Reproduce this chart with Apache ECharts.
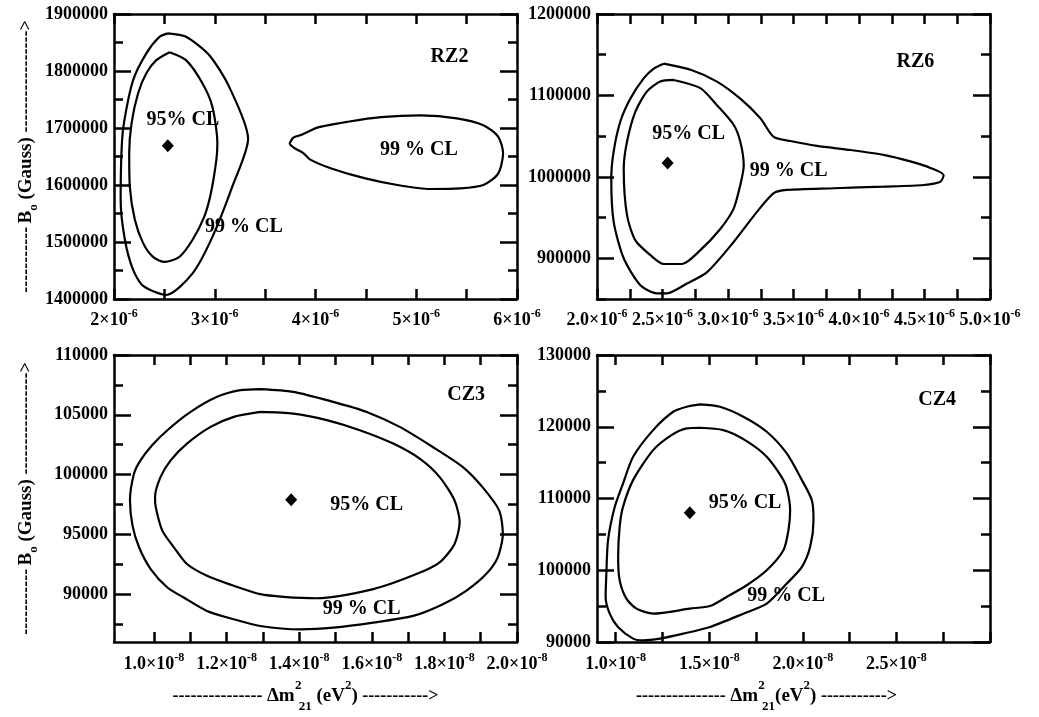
<!DOCTYPE html>
<html>
<head>
<meta charset="utf-8">
<script src="https://cdn.jsdelivr.net/npm/echarts@6/dist/echarts.min.js"></script>
<style>
  html, body { margin: 0; padding: 0; background: #fff; }
  #chart { width: 1039px; height: 717px; }
</style>
</head>
<body>
<div id="chart"></div>
<script>
// contours: [dm2 (eV^2), B0 (Gauss)]
const rz2Outer = [[2.534e-6,1866000],[2.715e-6,1860000],[2.944e-6,1828000],[3.141e-6,1773000],[3.331e-6,1681000],[3.174e-6,1597000],[2.977e-6,1509000],[2.780e-6,1445000],[2.518e-6,1407000],[2.289e-6,1423000],[2.190e-6,1451000],[2.108e-6,1504000],[2.066e-6,1574000],[2.075e-6,1661000],[2.098e-6,1708000],[2.190e-6,1784000],[2.321e-6,1831000],[2.452e-6,1860000],[2.534e-6,1866000]];
const rz2Inner = [[2.551e-6,1833000],[2.715e-6,1819000],[2.879e-6,1778000],[2.977e-6,1737000],[3.026e-6,1673000],[3.016e-6,1644000],[2.961e-6,1585000],[2.895e-6,1544000],[2.780e-6,1504000],[2.649e-6,1474000],[2.502e-6,1465000],[2.387e-6,1474000],[2.289e-6,1498000],[2.207e-6,1539000],[2.157e-6,1597000],[2.151e-6,1656000],[2.174e-6,1708000],[2.239e-6,1761000],[2.321e-6,1796000],[2.420e-6,1819000],[2.551e-6,1833000]];
const rz2Island = [[3.741e-6,1672000],[3.780e-6,1683000],[3.862e-6,1688000],[4.026e-6,1701000],[4.321e-6,1711000],[4.649e-6,1719000],[5.043e-6,1722000],[5.403e-6,1717000],[5.666e-6,1705000],[5.813e-6,1685000],[5.862e-6,1656000],[5.813e-6,1620000],[5.666e-6,1600000],[5.436e-6,1594000],[5.141e-6,1593000],[4.813e-6,1600000],[4.485e-6,1612000],[4.157e-6,1629000],[3.944e-6,1645000],[3.879e-6,1656000],[3.797e-6,1664000],[3.741e-6,1672000]];
const rz2Best = [2.534e-6, 1669000];

const rz6Outer = [[2.509e-6,1139000],[2.725e-6,1131000],[2.916e-6,1117000],[3.094e-6,1096000],[3.247e-6,1072000],[3.349e-6,1049000],[3.476e-6,1044000],[3.679e-6,1038000],[3.934e-6,1033000],[4.188e-6,1027000],[4.392e-6,1019000],[4.545e-6,1011000],[4.646e-6,1002000],[4.621e-6,994000],[4.494e-6,990000],[4.188e-6,988000],[3.807e-6,986000],[3.450e-6,984000],[3.349e-6,980000],[3.221e-6,957000],[3.043e-6,920000],[2.840e-6,883000],[2.687e-6,869000],[2.534e-6,857000],[2.458e-6,857000],[2.331e-6,867000],[2.204e-6,900000],[2.127e-6,945000],[2.109e-6,998000],[2.127e-6,1031000],[2.178e-6,1068000],[2.254e-6,1096000],[2.356e-6,1121000],[2.433e-6,1133000],[2.509e-6,1139000]];
const rz6Inner = [[2.585e-6,1119000],[2.789e-6,1109000],[2.916e-6,1088000],[3.043e-6,1064000],[3.094e-6,1043000],[3.120e-6,1014000],[3.094e-6,990000],[3.043e-6,961000],[2.941e-6,936000],[2.789e-6,910000],[2.649e-6,893000],[2.509e-6,893000],[2.407e-6,904000],[2.293e-6,922000],[2.229e-6,953000],[2.204e-6,1010000],[2.229e-6,1043000],[2.293e-6,1080000],[2.382e-6,1105000],[2.483e-6,1117000],[2.585e-6,1119000]];
const rz6Best = [2.539e-6, 1017000];

const cz3Outer = [[1.293e-8,107150],[1.384e-8,106920],[1.494e-8,106080],[1.586e-8,105240],[1.677e-8,103990],[1.768e-8,102310],[1.851e-8,100630],[1.905e-8,98950],[1.951e-8,96990],[1.961e-8,95030],[1.947e-8,93080],[1.915e-8,91680],[1.860e-8,90280],[1.796e-8,89160],[1.714e-8,88180],[1.604e-8,87620],[1.494e-8,87200],[1.403e-8,87060],[1.293e-8,87340],[1.220e-8,87900],[1.146e-8,88600],[1.082e-8,89720],[1.037e-8,90560],[0.991e-8,92100],[0.959e-8,93920],[0.941e-8,95730],[0.934e-8,97830],[0.945e-8,100070],[0.963e-8,101190],[0.995e-8,102450],[1.037e-8,103710],[1.101e-8,105240],[1.174e-8,106500],[1.238e-8,107060],[1.293e-8,107150]];
const cz3Inner = [[1.293e-8,105240],[1.384e-8,105100],[1.476e-8,104550],[1.567e-8,103710],[1.659e-8,102590],[1.732e-8,101330],[1.787e-8,99790],[1.828e-8,97830],[1.842e-8,96010],[1.828e-8,94200],[1.787e-8,92660],[1.723e-8,91680],[1.604e-8,90420],[1.448e-8,89660],[1.357e-8,89780],[1.293e-8,90000],[1.220e-8,90700],[1.146e-8,91540],[1.091e-8,92520],[1.055e-8,93920],[1.023e-8,95310],[1.005e-8,97270],[1.003e-8,98110],[1.018e-8,99790],[1.046e-8,101190],[1.091e-8,102590],[1.156e-8,103990],[1.220e-8,104830],[1.293e-8,105240]];
const cz3Best = [1.378e-8, 97900];

const cz4Outer = [[1.450e-8,123120],[1.557e-8,122790],[1.682e-8,121400],[1.807e-8,119300],[1.914e-8,116280],[1.995e-8,112560],[2.048e-8,109770],[2.057e-8,106980],[2.039e-8,103260],[1.995e-8,100470],[1.914e-8,98140],[1.807e-8,95350],[1.682e-8,93950],[1.504e-8,92090],[1.361e-8,91160],[1.236e-8,90470],[1.146e-8,90230],[1.093e-8,90470],[1.012e-8,92090],[0.968e-8,93950],[0.946e-8,96280],[0.950e-8,99530],[0.959e-8,104190],[0.995e-8,108840],[1.039e-8,112090],[1.093e-8,115810],[1.200e-8,119530],[1.307e-8,122090],[1.379e-8,122790],[1.450e-8,123120]];
const cz4Inner = [[1.450e-8,119860],[1.575e-8,119530],[1.691e-8,118140],[1.807e-8,115810],[1.905e-8,112090],[1.932e-8,108370],[1.923e-8,105580],[1.896e-8,102790],[1.807e-8,100000],[1.700e-8,97910],[1.593e-8,96280],[1.504e-8,95020],[1.396e-8,94650],[1.200e-8,93950],[1.111e-8,94650],[1.057e-8,96050],[1.021e-8,98600],[1.013e-8,101860],[1.021e-8,106050],[1.039e-8,108840],[1.093e-8,112560],[1.200e-8,116740],[1.298e-8,118840],[1.379e-8,119770],[1.450e-8,119860]];
const cz4Best = [1.396e-8, 108000];

// text notes: [text, dm2, B0]
const rz2Notes = [['RZ2', 5.33e-6, 1825000], ['95% CL', 2.685e-6, 1714000], ['99 % CL', 5.026e-6, 1661000], ['99 % CL', 3.289e-6, 1527000]];
const rz6Notes = [['RZ6', 4.43e-6, 1141000], ['95% CL', 2.70e-6, 1053000], ['99 % CL', 3.463e-6, 1008000]];
const cz3Notes = [['CZ3', 1.86e-8, 106640], ['95% CL', 1.586e-8, 97470], ['99 % CL', 1.572e-8, 88740]];
const cz4Notes = [['CZ4', 2.718e-8, 123720], ['95% CL', 1.691e-8, 109440], ['99 % CL', 1.911e-8, 96370]];

// ticks and labels
const rz2XTicks = [2e-6, 2.5e-6, 3e-6, 3.5e-6, 4e-6, 4.5e-6, 5e-6, 5.5e-6, 6e-6];
const rz2XLabels = [2e-6, 3e-6, 4e-6, 5e-6, 6e-6];
const rz2YMajor = [1400000, 1500000, 1600000, 1700000, 1800000, 1900000];
const rz2YMinor = [1450000, 1550000, 1650000, 1750000, 1850000];

const rz6XTicks = [2e-6, 2.25e-6, 2.5e-6, 2.75e-6, 3e-6, 3.25e-6, 3.5e-6, 3.75e-6, 4e-6, 4.25e-6, 4.5e-6, 4.75e-6, 5e-6];
const rz6XLabels = [2e-6, 2.5e-6, 3e-6, 3.5e-6, 4e-6, 4.5e-6, 5e-6];
const rz6YMajor = [900000, 1000000, 1100000, 1200000];
const rz6YMinor = [850000, 950000, 1050000, 1150000];

const cz3XTicks = [1.0e-8, 1.1e-8, 1.2e-8, 1.3e-8, 1.4e-8, 1.5e-8, 1.6e-8, 1.7e-8, 1.8e-8, 1.9e-8, 2.0e-8];
const cz3XLabels = [1.0e-8, 1.2e-8, 1.4e-8, 1.6e-8, 1.8e-8, 2.0e-8];
const cz3YMajor = [90000, 95000, 100000, 105000, 110000];
const cz3YMinor = [87500, 92500, 97500, 102500, 107500];

const cz4XTicks = [1.0e-8, 1.25e-8, 1.5e-8, 1.75e-8, 2.0e-8, 2.25e-8, 2.5e-8, 2.75e-8, 3.0e-8];
const cz4XLabels = [1.0e-8, 1.5e-8, 2.0e-8, 2.5e-8];
const cz4YMajor = [90000, 100000, 110000, 120000, 130000];
const cz4YMinor = [95000, 105000, 115000, 125000];

const SERIF = '"Liberation Serif", "Times New Roman", serif';
const INK = '#000';

const yNameText = '{d|-----------} {b|B}{s|o}{b| (Gauss) }{d|----------------->}';
const xNameText3 = '{d|--------------- }{b|Δm}{q|2}{s|21}{b| (eV}{p|2}{b|)}{d| ----------->}';
const xNameText4 = '{d|--------------- }{b|Δm}{q|2}{s|21}{b|(eV}{p|2}{b|)}{d| ----------->}';

const panels = [
  { box: { left: 114, top: 14, width: 403, height: 285 }, x: [2e-6, 6e-6], y: [1400000, 1900000],
    xTicks: rz2XTicks, xLabels: rz2XLabels, exp: -6, digits: 0, yMajor: rz2YMajor, yMinor: rz2YMinor,
    curves: [rz2Outer, rz2Inner, rz2Island], best: rz2Best, notes: rz2Notes, yName: true, xName: null, margin: 9 },
  { box: { left: 597, top: 14, width: 393, height: 285 }, x: [2e-6, 5e-6], y: [850000, 1200000],
    xTicks: rz6XTicks, xLabels: rz6XLabels, exp: -6, digits: 1, yMajor: rz6YMajor, yMinor: rz6YMinor,
    curves: [rz6Outer, rz6Inner], best: rz6Best, notes: rz6Notes, yName: false, xName: null, margin: 9 },
  { box: { left: 114, top: 355, width: 403, height: 287 }, x: [0.89e-8, 2e-8], y: [86000, 110000],
    xTicks: cz3XTicks, xLabels: cz3XLabels, exp: -8, digits: 1, yMajor: cz3YMajor, yMinor: cz3YMinor,
    curves: [cz3Outer, cz3Inner], best: cz3Best, notes: cz3Notes, yName: true, xName: xNameText3, namePad: 20, margin: 10 },
  { box: { left: 597, top: 355, width: 393, height: 287 }, x: [0.9e-8, 3e-8], y: [90000, 130000],
    xTicks: cz4XTicks, xLabels: cz4XLabels, exp: -8, digits: 1, yMajor: cz4YMajor, yMinor: cz4YMinor,
    curves: [cz4Outer, cz4Inner], best: cz4Best, notes: cz4Notes, yName: false, xName: xNameText4, namePad: 54, margin: 10 }
];

const lineW = 2.5;
const frame = { show: true, onZero: false, lineStyle: { color: INK, width: lineW } };
const noLine = { show: false };

function ticks(values, length) {
  return { show: true, inside: true, length: length, customValues: values, lineStyle: { color: INK, width: lineW } };
}

function sciLabel(exp, digits) {
  const scale = Math.pow(10, exp);
  return (v) => '{m|' + (v / scale).toFixed(digits) + '×10}{e|' + exp + '}';
}

const boldTxt = { fontFamily: SERIF, fontWeight: 'bold', color: INK };

const grid = [], xAxis = [], yAxis = [], series = [];

panels.forEach((p, i) => {
  grid.push(Object.assign({ containLabel: false }, p.box));

  xAxis.push({
    type: 'value', gridIndex: i, position: 'bottom', min: p.x[0], max: p.x[1],
    axisLine: frame, splitLine: { show: false },
    axisTick: ticks(p.xTicks, 10),
    axisLabel: {
      show: true, customValues: p.xLabels, margin: p.margin, hideOverlap: false,
      formatter: sciLabel(p.exp, p.digits),
      rich: {
        m: Object.assign({ fontSize: 18, lineHeight: 21, verticalAlign: 'bottom' }, boldTxt),
        e: Object.assign({ fontSize: 12, lineHeight: 21, verticalAlign: 'top' }, boldTxt)
      }
    },
    name: p.xName || '', nameLocation: 'middle', nameGap: 37, nameMoveOverlap: false,
    nameTextStyle: {
      padding: [0, p.namePad || 0, 0, 0],
      rich: {
        d: Object.assign({ fontSize: 18, lineHeight: 34, verticalAlign: 'middle' }, boldTxt),
        b: Object.assign({ fontSize: 19, lineHeight: 34, verticalAlign: 'middle' }, boldTxt),
        q: Object.assign({ fontSize: 13, lineHeight: 34, verticalAlign: 'top', width: 1, padding: [0, 0, 0, 3] }, boldTxt),
        p: Object.assign({ fontSize: 13, lineHeight: 34, verticalAlign: 'top' }, boldTxt),
        s: Object.assign({ fontSize: 13, lineHeight: 34, verticalAlign: 'bottom' }, boldTxt)
      }
    }
  });
  xAxis.push({
    type: 'value', gridIndex: i, position: 'top', min: p.x[0], max: p.x[1],
    axisLine: frame, splitLine: { show: false }, axisLabel: { show: false },
    axisTick: ticks(p.xTicks, 10)
  });

  yAxis.push({
    type: 'value', gridIndex: i, position: 'left', min: p.y[0], max: p.y[1],
    axisLine: frame, splitLine: { show: false },
    axisTick: ticks(p.yMajor, 17),
    axisLabel: Object.assign({ show: true, customValues: p.yMajor, margin: 6, fontSize: 18, hideOverlap: false,
      formatter: (v) => String(v) }, boldTxt),
    name: p.yName ? yNameText : '', nameLocation: 'middle', nameGap: 74, nameMoveOverlap: false,
    nameTextStyle: {
      rich: {
        d: Object.assign({ fontSize: 18, lineHeight: 28, verticalAlign: 'middle' }, boldTxt),
        b: Object.assign({ fontSize: 19, lineHeight: 28, verticalAlign: 'middle' }, boldTxt),
        s: Object.assign({ fontSize: 13, lineHeight: 28, verticalAlign: 'bottom' }, boldTxt)
      }
    }
  });
  yAxis.push({
    type: 'value', gridIndex: i, position: 'left', min: p.y[0], max: p.y[1],
    axisLine: noLine, splitLine: { show: false }, axisLabel: { show: false },
    axisTick: ticks(p.yMinor, 9)
  });
  yAxis.push({
    type: 'value', gridIndex: i, position: 'right', min: p.y[0], max: p.y[1],
    axisLine: frame, splitLine: { show: false }, axisLabel: { show: false },
    axisTick: ticks(p.yMajor, 17)
  });
  yAxis.push({
    type: 'value', gridIndex: i, position: 'right', min: p.y[0], max: p.y[1],
    axisLine: noLine, splitLine: { show: false }, axisLabel: { show: false },
    axisTick: ticks(p.yMinor, 9)
  });

  const xi = 2 * i, yi = 4 * i;
  p.curves.forEach((c) => {
    series.push({
      type: 'line', xAxisIndex: xi, yAxisIndex: yi, data: c,
      symbol: 'none', smooth: 0.25, silent: true,
      lineStyle: { color: INK, width: 2.2 }
    });
  });
  series.push({
    type: 'scatter', xAxisIndex: xi, yAxisIndex: yi, data: [p.best],
    symbol: 'diamond', symbolSize: [12, 13], itemStyle: { color: INK, opacity: 1 }, silent: true
  });
  series.push({
    type: 'scatter', xAxisIndex: xi, yAxisIndex: yi, symbolSize: 0, silent: true,
    itemStyle: { color: INK },
    data: p.notes.map((n) => ({ name: n[0], value: [n[1], n[2]] })),
    label: { show: true, position: 'inside', formatter: '{b}', fontFamily: SERIF, fontWeight: 'bold',
      fontSize: 20, color: INK, textBorderWidth: 0, opacity: 1 }
  });
});

const chart = echarts.init(document.getElementById('chart'));
chart.setOption({ animation: false, backgroundColor: '#fff', grid, xAxis, yAxis, series });
</script>
</body>
</html>
